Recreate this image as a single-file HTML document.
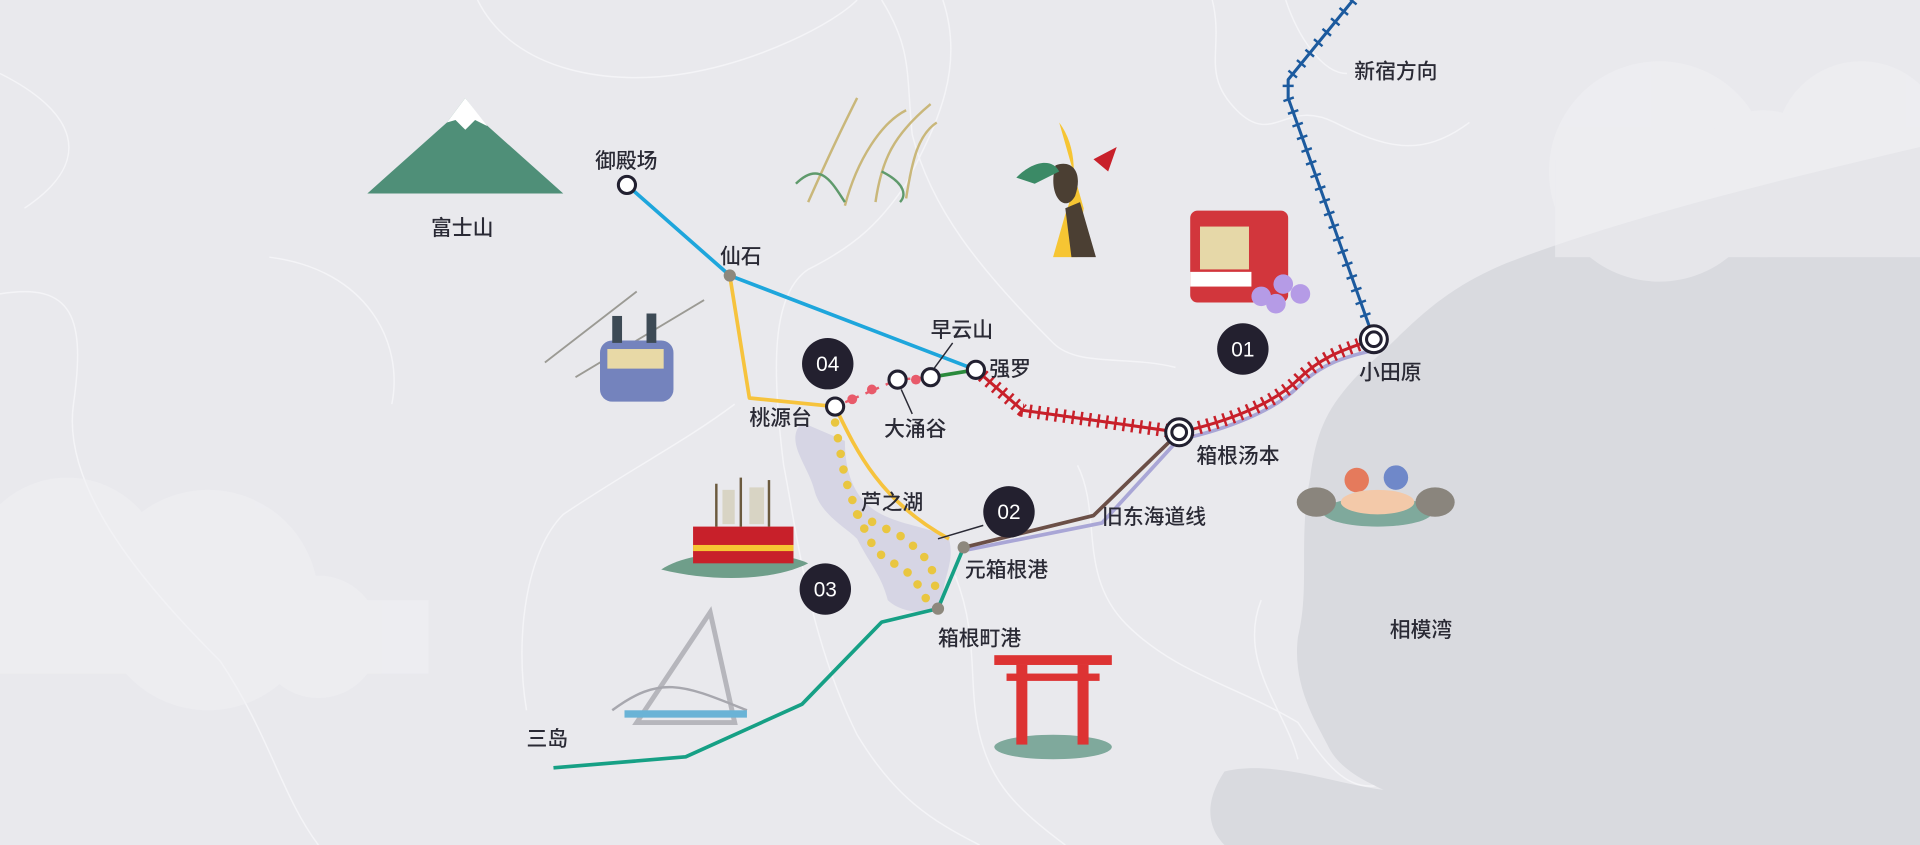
<!DOCTYPE html>
<html><head><meta charset="utf-8"><style>
html,body{margin:0;padding:0;background:#e9e9ed;}
svg{display:block;}
text{font-family:"Liberation Sans","Noto Sans CJK SC",sans-serif;fill:#2a2a35;font-weight:500;}
</style></head><body>
<svg width="1920" height="845" viewBox="0 0 1568 690" preserveAspectRatio="none" xmlns="http://www.w3.org/2000/svg">
<rect width="1568" height="690" fill="#e9e9ed"/>
<!-- roads -->
<g fill="none" stroke="#f4f4f7" stroke-width="1.2">
<path d="M0 60 C60 90 80 130 20 170"/>
<path d="M0 240 C60 230 70 260 60 330 C50 400 120 480 180 540 C220 600 230 650 260 690"/>
<path d="M720 0 C745 40 740 60 745 110 C760 170 800 220 860 280 C880 300 920 290 960 300"/>
<path d="M770 0 C790 60 760 110 740 150 C720 180 700 200 660 220 C630 240 630 300 640 380 C650 430 660 520 700 600 C730 650 760 670 800 690"/>
<path d="M390 0 C420 60 500 70 560 60 C620 50 680 20 700 0"/>
<path d="M990 0 C1000 40 980 60 1010 90 C1040 120 1050 80 1090 100 C1130 120 1160 130 1200 100"/>
<path d="M1050 0 C1060 30 1080 60 1100 60"/>
<path d="M880 380 C900 420 880 470 920 510 C960 550 1010 560 1060 590 C1080 620 1100 650 1130 640"/>
<path d="M600 330 C560 360 520 380 460 420 C430 450 420 520 430 580"/>
<path d="M780 470 C800 520 790 560 800 600 C810 640 830 660 870 690"/>
<path d="M1030 490 C1010 540 1050 580 1060 620"/>
<path d="M220 210 C300 220 330 280 320 330"/>
</g>
<!-- sea -->
<path d="M1568 120 C1440 150 1320 180 1230 215 C1170 240 1150 270 1115 300 C1085 330 1075 350 1070 390 C1060 440 1070 480 1060 520 C1055 560 1075 590 1085 610 C1095 630 1120 640 1130 645 C1090 640 1040 620 1000 630 C980 660 990 680 1000 690 L1568 690 Z" fill="#d9dadf"/>
<!-- clouds -->
<g fill="#f1f1f4" opacity="0.55">
<circle cx="1355" cy="140" r="90"/><circle cx="1520" cy="120" r="70"/><circle cx="1440" cy="150" r="60"/>
<rect x="1270" y="130" width="298" height="80"/>
</g>
<g fill="#f1f1f4" opacity="0.55">
<circle cx="170" cy="490" r="90"/><circle cx="55" cy="470" r="80"/><circle cx="260" cy="520" r="50"/>
<rect x="0" y="490" width="350" height="60"/>
</g>
<!-- lake -->
<path d="M655 345 C640 360 660 380 665 400 C670 420 690 430 700 440 C710 460 720 470 725 490 C735 500 760 505 770 490 C770 470 780 460 775 440 C760 430 740 430 720 420 C700 410 690 390 690 360 Z" fill="#d6d5e4"/>
<!-- routes -->
<g fill="none" stroke-linejoin="round">
<path d="M1105 0 L1052 65 L1052 80 L1122 277" stroke="#1c5a9e" stroke-width="2.5"/>
<path d="M1105 0 L1052 65 L1052 80 L1122 277" stroke="#1c5a9e" stroke-width="9" stroke-dasharray="2 9"/>
<path d="M512 151 L596 225 L797 302" stroke="#1ea6dc" stroke-width="3"/>
<path d="M596 225 L612 325 L682 332" stroke="#f6c33d" stroke-width="3"/>
<path d="M682 332 C700 370 720 410 775 440" stroke="#f6c33d" stroke-width="3"/>
<path d="M963 353 C1000 345 1040 330 1060 310 C1080 290 1100 285 1122 280" stroke="#a9a6d6" stroke-width="3" transform="translate(0,6)"/>
<path d="M963 353 L897 425 L787 447" stroke="#a9a6d6" stroke-width="3" transform="translate(3,2)"/>
<path d="M963 353 L893 421 L787 447" stroke="#6b4f47" stroke-width="3"/>
<path d="M797 302 L835 335 L963 353 C1000 345 1040 330 1060 310 C1080 290 1100 285 1122 277" stroke="#c8202a" stroke-width="2.5"/>
<path d="M797 302 L835 335 L963 353 C1000 345 1040 330 1060 310 C1080 290 1100 285 1122 277" stroke="#c8202a" stroke-width="11" stroke-dasharray="2 5"/>
<path d="M787 447 L766 497 L720 508 L655 575 L560 618 L452 627" stroke="#16a085" stroke-width="3"/>
<path d="M760 308 L797 302" stroke="#2a8a3c" stroke-width="3"/>
<path d="M682 332 L733 310 L760 308" stroke="#e85a6a" stroke-width="2" stroke-dasharray="3 6"/>
<path d="M682 345 L690 390 L700 420 L740 440 L760 460 L766 490" stroke="#e9c640" stroke-width="7" stroke-linecap="round" stroke-dasharray="0 13"/>
<path d="M700 420 L715 450 L745 470 L760 495" stroke="#e9c640" stroke-width="7" stroke-linecap="round" stroke-dasharray="0 13"/>
</g>
<g fill="#e85a6a"><circle cx="696" cy="326" r="4"/><circle cx="712" cy="318" r="4"/><circle cx="748" cy="310" r="4"/></g>
<!-- callout lines -->
<g stroke="#2a2a35" stroke-width="1.2"><line x1="766" y1="440" x2="803" y2="429"/><line x1="762" y1="302" x2="778" y2="280"/><line x1="736" y1="318" x2="745" y2="338"/></g>
<!-- stations -->
<g fill="#fff" stroke="#222030" stroke-width="2.5">
<circle cx="512" cy="151" r="7"/><circle cx="682" cy="332" r="7"/><circle cx="733" cy="310" r="7"/><circle cx="760" cy="308" r="7"/><circle cx="797" cy="302" r="7"/>
<circle cx="963" cy="353" r="11"/><circle cx="963" cy="353" r="6"/><circle cx="1122" cy="277" r="11"/><circle cx="1122" cy="277" r="6"/>
</g>
<g fill="#8d887d"><circle cx="596" cy="225" r="5"/><circle cx="787" cy="447" r="5"/><circle cx="766" cy="497" r="5"/></g>
<!-- number badges -->
<g fill="#23202f"><circle cx="1015" cy="285" r="21"/><circle cx="824" cy="418" r="21"/><circle cx="674" cy="481" r="21"/><circle cx="676" cy="297" r="21"/></g>
<g font-size="17" text-anchor="middle"><text x="1015" y="291" style="fill:#fff">01</text><text x="824" y="424" style="fill:#fff">02</text><text x="674" y="487" style="fill:#fff">03</text><text x="676" y="303" style="fill:#fff">04</text></g>
<!-- illustrations -->
<path d="M300 158 L365 100 L380 80 L395 100 L460 158 Z" fill="#4f8f78"/>
<path d="M365 100 L380 80 L398 103 L388 98 L380 106 L372 98 Z" fill="#fff"/>
<g stroke="#9b9a94" stroke-width="1.5"><line x1="445" y1="296" x2="520" y2="238"/><line x1="470" y1="308" x2="575" y2="245"/></g>
<rect x="490" y="278" width="60" height="50" rx="10" fill="#7483bd"/><rect x="496" y="285" width="46" height="16" fill="#e8d9a6"/>
<rect x="500" y="258" width="8" height="22" fill="#3d4a55"/><rect x="528" y="256" width="8" height="24" fill="#3d4a55"/>
<g stroke="#c9b77a" stroke-width="2" fill="none"><path d="M660 165 C680 120 690 100 700 80"/><path d="M690 168 C700 130 720 100 740 90"/><path d="M715 165 C720 130 730 110 760 85"/><path d="M740 162 C745 130 750 110 765 100"/></g>
<g stroke="#5f9a6c" stroke-width="2" fill="none"><path d="M650 150 C670 130 680 150 690 165"/><path d="M720 140 C740 150 740 160 735 165"/></g>
<path d="M865 100 C880 120 880 150 870 175 L860 210 L880 210 L885 170 Z" fill="#f6c533"/>
<path d="M862 135 C855 160 870 175 878 160 C885 140 875 130 862 135 Z M870 170 L875 210 L895 210 L882 165 Z" fill="#4b3f33"/>
<path d="M830 145 C845 130 860 130 865 140 L845 150 Z" fill="#3b8a66"/><path d="M893 130 L912 120 L905 140 Z" fill="#c8202a"/>
<rect x="972" y="172" width="80" height="75" rx="6" fill="#d2363c"/><rect x="980" y="185" width="40" height="35" fill="#e6d8a8"/><rect x="972" y="222" width="50" height="12" fill="#fff"/>
<g fill="#b59be6"><circle cx="1030" cy="242" r="8"/><circle cx="1048" cy="232" r="8"/><circle cx="1062" cy="240" r="8"/><circle cx="1042" cy="248" r="8"/></g>
<ellipse cx="1125" cy="418" rx="45" ry="12" fill="#7fa99c"/>
<g fill="#8a857d"><ellipse cx="1075" cy="410" rx="16" ry="12"/><ellipse cx="1172" cy="410" rx="16" ry="12"/></g>
<circle cx="1108" cy="392" r="10" fill="#e57a5c"/><circle cx="1140" cy="390" r="10" fill="#6f88c9"/><ellipse cx="1125" cy="410" rx="30" ry="10" fill="#f3c9a9"/>
<path d="M540 465 C570 445 640 450 660 460 C630 475 580 475 540 465 Z" fill="#6f9e8a"/>
<rect x="566" y="430" width="82" height="30" fill="#c8202a"/><rect x="566" y="445" width="82" height="5" fill="#f6c533"/>
<g stroke="#6b5a3e" stroke-width="2"><line x1="585" y1="395" x2="585" y2="430"/><line x1="605" y1="390" x2="605" y2="430"/><line x1="628" y1="392" x2="628" y2="430"/></g>
<g fill="#d8d4c4"><rect x="590" y="400" width="10" height="28"/><rect x="612" y="398" width="12" height="30"/></g>
<path d="M520 590 L600 590 L580 500 Z" fill="none" stroke="#b6b6bc" stroke-width="4"/>
<path d="M500 580 C540 550 560 560 610 580" fill="none" stroke="#a7a7ae" stroke-width="2"/><rect x="510" y="580" width="100" height="6" fill="#6ab3d6"/>
<ellipse cx="860" cy="610" rx="48" ry="10" fill="#7fa99c"/>
<rect x="812" y="535" width="96" height="8" fill="#d33"/><rect x="822" y="550" width="76" height="6" fill="#d33"/>
<rect x="830" y="543" width="9" height="65" fill="#d33"/><rect x="880" y="543" width="9" height="65" fill="#d33"/>
<!-- labels -->
<g font-size="17">
<text x="1106" y="64">新宿方向</text>
<text x="352" y="192">富士山</text>
<text x="486" y="137">御殿场</text>
<text x="588" y="215">仙石</text>
<text x="760" y="275">早云山</text>
<text x="808" y="307">强罗</text>
<text x="722" y="356">大涌谷</text>
<text x="612" y="347">桃源台</text>
<text x="703" y="416">芦之湖</text>
<text x="788" y="471">元箱根港</text>
<text x="766" y="527">箱根町港</text>
<text x="977" y="378">箱根汤本</text>
<text x="900" y="428">旧东海道线</text>
<text x="1110" y="310">小田原</text>
<text x="1135" y="520">相模湾</text>
<text x="430" y="609">三岛</text>
</g>
</svg>
</body></html>
